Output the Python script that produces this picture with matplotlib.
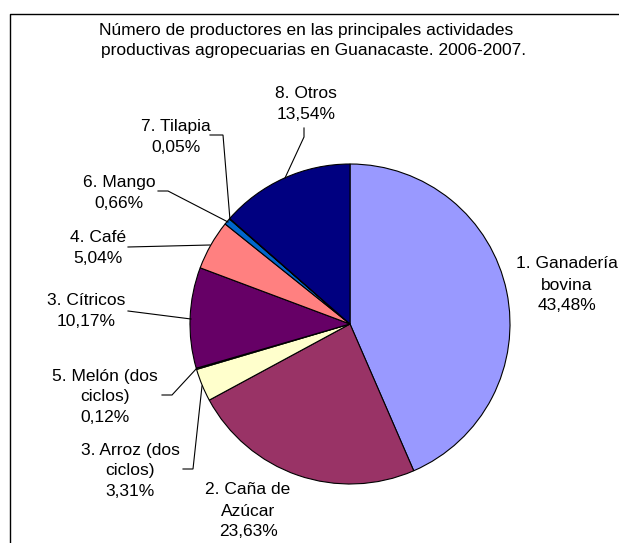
import matplotlib
matplotlib.use("Agg")
import matplotlib.pyplot as plt

# ---- data ----
categories = ["1. Ganadería\nbovina", "2. Caña de\nAzúcar", "3. Arroz (dos\nciclos)",
              "5. Melón (dos\nciclos)", "3. Cítricos", "4. Café", "6. Mango",
              "7. Tilapia", "8. Otros"]
values = [43.48, 23.63, 3.31, 0.12, 10.17, 5.04, 0.66, 0.05, 13.54]
pct_labels = ["43,48%", "23,63%", "3,31%", "0,12%", "10,17%", "5,04%", "0,66%", "0,05%", "13,54%"]
colors = ["#9999FF", "#993366", "#FFFFCC", "#CCFFFF", "#660066",
          "#FF8080", "#0066CC", "#CCCCFF", "#000080"]
title_lines = ["Número de productores en las principales actividades",
               "productivas agropecuarias en Guanacaste. 2006-2007."]

W, H = 619, 543
plt.rcParams['font.family'] = ['Liberation Sans', 'DejaVu Sans']

fig = plt.figure(figsize=(W / 100, H / 100), dpi=100)
ax = fig.add_axes([0, 0, 1, 1])

def P(x, y):
    return x, H - y

cx, cy = P(350, 324)
ax.pie(values, colors=colors, startangle=90, counterclock=False,
       center=(cx, cy), radius=160,
       wedgeprops=dict(edgecolor="black", linewidth=0.8))
ax.set_aspect("auto")
ax.set_xlim(0, W)
ax.set_ylim(0, H)
ax.axis("off")

fs = 12.5
# label centers (layout, top-based pixels)
label_pos = [(567, 285), (248, 511), (130, 471), (105, 397), (86, 311),
             (98, 248), (119, 193), (176, 137), (306, 104)]
for cat, pct, (lx, ly) in zip(categories, pct_labels, label_pos):
    ax.text(*P(lx, ly), cat + "\n" + pct, ha="center", va="center",
            fontsize=fs, linespacing=1.5, color="black")

# leader lines (layout)
leaders = [
    [(304, 128), (304, 137), (285, 178)],
    [(210, 135), (223, 135), (230, 220)],
    [(158, 191), (168, 191), (228, 222)],
    [(128, 247), (210, 245)],
    [(128, 311), (191, 319)],
    [(162, 395), (172, 395), (197, 368)],
    [(183, 469), (193, 469), (202, 386)],
]
for pts in leaders:
    xs = [p[0] for p in pts]
    ys = [H - p[1] for p in pts]
    ax.plot(xs, ys, color="black", lw=0.8, solid_joinstyle="miter")

# title
ax.text(*P(306, 31), title_lines[0], ha="center", va="center", fontsize=fs)
ax.text(*P(314, 51), title_lines[1], ha="center", va="center", fontsize=fs)

# chart frame (cropped at right and bottom)
ax.plot([9.5, 9.5, W + 5], [-5, H - 13.5, H - 13.5], color="black", lw=1.0,
        clip_on=False)

fig.savefig("out.png", dpi=100)
